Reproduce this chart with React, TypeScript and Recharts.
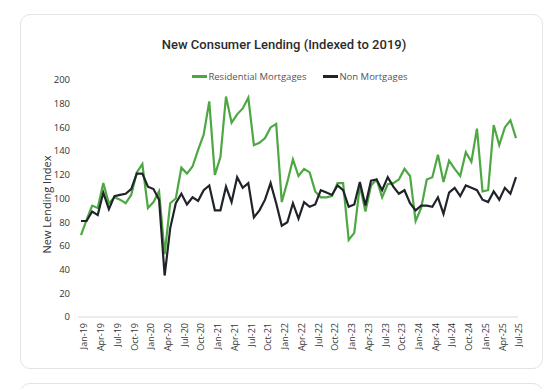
import { LineChart, Line, XAxis, YAxis, Legend } from "recharts";

const months = [
  "Jan-19", "Feb-19", "Mar-19", "Apr-19", "May-19", "Jun-19", "Jul-19", "Aug-19", "Sep-19", "Oct-19", "Nov-19", "Dec-19",
  "Jan-20", "Feb-20", "Mar-20", "Apr-20", "May-20", "Jun-20", "Jul-20", "Aug-20", "Sep-20", "Oct-20", "Nov-20", "Dec-20",
  "Jan-21", "Feb-21", "Mar-21", "Apr-21", "May-21", "Jun-21", "Jul-21", "Aug-21", "Sep-21", "Oct-21", "Nov-21", "Dec-21",
  "Jan-22", "Feb-22", "Mar-22", "Apr-22", "May-22", "Jun-22", "Jul-22", "Aug-22", "Sep-22", "Oct-22", "Nov-22", "Dec-22",
  "Jan-23", "Feb-23", "Mar-23", "Apr-23", "May-23", "Jun-23", "Jul-23", "Aug-23", "Sep-23", "Oct-23", "Nov-23", "Dec-23",
  "Jan-24", "Feb-24", "Mar-24", "Apr-24", "May-24", "Jun-24", "Jul-24", "Aug-24", "Sep-24", "Oct-24", "Nov-24", "Dec-24",
  "Jan-25", "Feb-25", "Mar-25", "Apr-25", "May-25", "Jun-25", "Jul-25",
];

const residential = [
  69, 82, 94, 92, 113, 96, 101, 99, 96, 103, 122, 129,
  92, 97, 106, 53, 96, 100, 126, 121, 127, 141, 154, 182,
  120, 135, 186, 164, 171, 176, 185, 145, 147, 151, 160, 163,
  97, 114, 133, 119, 125, 122, 106, 101, 101, 102, 113, 113,
  65, 71, 111, 89, 111, 116, 101, 112, 113, 116, 125, 119,
  81, 92, 116, 118, 137, 114, 132, 125, 119, 139, 131, 159,
  106, 107, 162, 145, 160, 166, 151,
];

const nonMortgages = [
  81, 81, 89, 86, 105, 91, 102, 103, 104, 108, 121, 121,
  110, 108, 99, 35, 75, 96, 104, 95, 101, 98, 107, 111,
  90, 90, 110, 97, 118, 109, 113, 84, 90, 99, 113, 96,
  77, 80, 96, 83, 97, 93, 95, 107, 105, 103, 111, 107,
  93, 95, 114, 94, 115, 116, 107, 118, 110, 104, 107, 96,
  90, 94, 94, 93, 101, 87, 105, 109, 102, 111, 109, 107,
  99, 97, 106, 99, 109, 104, 118,
];

const yTicks = [0, 20, 40, 60, 80, 100, 120, 140, 160, 180, 200];

const GREEN = "#4da843";
const DARK = "#20242a";
const FONT = "'Open Sans', Roboto, sans-serif";

const data = months.map((m, i) => ({
  month: m,
  res: residential[i],
  non: nonMortgages[i],
}));

function LegendContent() {
  const items = [
    { label: "Residential Mortgages", color: GREEN },
    { label: "Non Mortgages", color: DARK },
  ];
  return (
    <div style={{ display: "flex", justifyContent: "center", gap: 17, fontFamily: FONT, fontSize: 9.5, color: "#4f5560" }}>
      {items.map((it) => (
        <div key={it.label} style={{ display: "flex", alignItems: "center" }}>
          <span style={{ display: "inline-block", width: 15, height: 2.5, background: it.color, marginRight: 1 }} />
          <span>{it.label}</span>
        </div>
      ))}
    </div>
  );
}

export default function App() {
  return (
    <div style={{ position: "absolute", left: 0, top: 0, width: 560, height: 389, background: "#fff", overflow: "hidden" }}>
      <div
        style={{
          position: "absolute", left: 20, top: 14, width: 521, height: 353,
          border: "1px solid #e4e4e4", borderRadius: 10, boxSizing: "content-box",
        }}
      />
      <div
        style={{
          position: "absolute", left: 20, top: 383, width: 521, height: 40,
          border: "1px solid #e4e4e4", borderRadius: 10,
        }}
      />
      <div
        style={{
          position: "absolute", left: 0, top: 37, width: 568, textAlign: "center",
          fontFamily: "Roboto, sans-serif", fontWeight: 500, fontSize: 13, color: "#2b2b2b",
        }}
      >
        New Consumer Lending (Indexed to 2019)
      </div>
      <div style={{ position: "absolute", left: 0, top: 0 }}>
        <LineChart width={560} height={389} data={data} margin={{ top: 80, right: 42, bottom: 32, left: 20 }}>
          <XAxis
            dataKey="month"
            interval={2}
            padding={{ left: 3, right: 2 }}
            height={40}
            tickLine={false}
            tickSize={4}
            axisLine={{ stroke: "#d9d9de" }}
            tick={{ angle: -90, textAnchor: "end", verticalAnchor: "middle", fontSize: 9, fill: "#333", fontFamily: FONT }}
          />
          <YAxis
            domain={[0, 200]}
            ticks={yTicks}
            width={58}
            axisLine={false}
            tickLine={false}
            tick={{ fontSize: 9.5, fill: "#333", fontFamily: FONT }}
            label={{ value: "New Lending Index", angle: -90, position: "center", dx: -2, dy: 6, fontSize: 11, fill: "#333", fontFamily: FONT }}
          />
          <Legend
            verticalAlign="middle"
            align="center"
            content={<LegendContent />}
            wrapperStyle={{ top: 70, left: 40, width: 520 }}
          />
          <Line type="linear" dataKey="res" name="Residential Mortgages" stroke={GREEN} strokeWidth={2.2} dot={false} isAnimationActive={false} />
          <Line type="linear" dataKey="non" name="Non Mortgages" stroke={DARK} strokeWidth={2.2} dot={false} isAnimationActive={false} />
        </LineChart>
      </div>
    </div>
  );
}
